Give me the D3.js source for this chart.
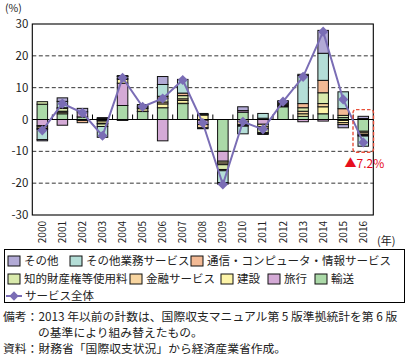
<!DOCTYPE html>
<html><head><meta charset="utf-8">
<script src="https://cdn.jsdelivr.net/npm/d3@7/dist/d3.min.js"></script>
<style>
body{margin:0;background:#fff;}
text{font-family:"Noto Sans CJK JP","Noto Sans",sans-serif;}
</style></head>
<body><svg id="c" width="409" height="361"></svg>
<script>
const years = ["2000","2001","2002","2003","2004","2005","2006","2007","2008","2009","2010","2011","2012","2013","2014","2015","2016"];
const seriesNames = ["輸送","旅行","建設","金融サービス","知的財産権等使用料","通信・コンピュータ・情報サービス","その他業務サービス","その他"];
const transport = [4.8, 1.8, 0.8, -0.3, 4.4, 2.5, 3.7, 5.0, -0.2, -10.0, 2.3, 0.4, 4.0, 1.0, 1.8, 0.6, -3.7];
const travel    = [-1.9, -1.8, 1.6, -0.2, 7.0, 0.1, -6.7, 0.1, -1.4, -3.1, 0.5, -1.5, 0.3, -0.7, -0.5, -0.3, 0.3];
const construction = [-0.4, 0.5, 0, -0.7, 1.2, 0.8, 1.2, 0.9, 1.4, -0.6, -0.6, -0.8, 0.3, 0.8, 2.2, -0.7, -0.5];
const finance   = [-0.5, 0.3, -0.3, -0.2, 0.3, 0.2, 0.6, 0.5, -1.0, -0.5, -1.0, -0.6, 0.2, 0.8, 1.0, -0.6, -0.5];
const ip        = [0.8, 0.9, 0, -0.8, 0.6, 0.3, 1.2, 1.0, -0.3, -1.5, -0.3, -1.2, 0.3, 1.1, 3.4, 0.7, -0.3];
const ict       = [-0.3, 0.2, -0.7, 0.3, 0.1, 0.3, 0.6, 0.8, 0.2, -0.4, -0.2, -0.3, 0.3, 1.3, 3.9, 2.1, -0.2];
const otherBiz  = [-3.2, 2.0, 0, -3.4, 0.2, 0.5, 3.7, 4.3, 0, -3.7, -2.4, 1.5, 0.3, 8.8, 8.5, 5.3, -3.2];
const other     = [-0.4, 1.1, 1.1, 0.3, -0.3, 0, 2.5, 0, 0.3, -0.5, 1.2, -0.3, 0.2, 0.4, 7.2, -1.0, 0.7];
const total     = [-3.4, 5.0, 2.1, -5.1, 13.1, 4.0, 6.6, 12.4, -1.1, -20.4, -0.7, -3.1, 5.6, 13.4, 27.6, 6.3, -7.2];
const yTicks = [-30, -20, -10, 0, 10, 20, 30];
const legendRows = [["その他","その他業務サービス","通信・コンピュータ・情報サービス"],["知的財産権等使用料","金融サービス","建設","旅行","輸送"]];
const lineName = "サービス全体";
const noteLines = ["備考：2013 年以前の計数は、国際収支マニュアル第 5 版準拠統計を第 6 版","の基準により組み替えたもの。","資料：財務省「国際収支状況」から経済産業省作成。"];
const annotation = "▲7.2%";

const seriesArr = [transport, travel, construction, finance, ip, ict, otherBiz, other];
const colors = {"輸送":"#abd9a8","旅行":"#d4aad6","建設":"#fdf4a8","金融サービス":"#f8d5a0","知的財産権等使用料":"#d9eaac","通信・コンピュータ・情報サービス":"#f3ba95","その他業務サービス":"#b4ded7","その他":"#b2aad6"};

const rows = years.map((y,i)=>{const o={year:y}; seriesNames.forEach((s,k)=>o[s]=seriesArr[k][i]); return o;});

const svg = d3.select("#c");
const L=32.3, R=373.3, T=24, B=215;
const x = d3.scaleBand().domain(years).range([L,R]).paddingInner(0.475).paddingOuter(0.2375);
const y = d3.scaleLinear().domain([-30,30]).range([B,T]);

// grid
svg.append("g").selectAll("line").data(yTicks.filter(v=>v!==0 && Math.abs(v)!==30)).join("line")
  .attr("x1",L).attr("x2",R).attr("y1",d=>y(d)).attr("y2",d=>y(d))
  .attr("stroke","#000").attr("stroke-width",0.8).attr("stroke-dasharray","4,2.5");

// y labels
svg.append("g").selectAll("text").data(yTicks).join("text")
  .attr("x",L-4).attr("y",d=>y(d)+4).attr("text-anchor","end")
  .attr("font-size",11.5).attr("fill","#222").text(d=>d);
svg.append("text").attr("x",5).attr("y",12).attr("font-size",10.5).attr("fill","#222").text("(%)");

// bars
const stack = d3.stack().keys(seriesNames).offset(d3.stackOffsetDiverging)(rows);
svg.append("g").selectAll("g").data(stack).join("g").attr("fill",d=>colors[d.key])
  .selectAll("rect").data(d=>d.filter(p=>p[1]-p[0]!==0)).join("rect")
  .attr("x",d=>x(d.data.year)).attr("width",x.bandwidth())
  .attr("y",d=>y(Math.max(d[0],d[1]))).attr("height",d=>Math.abs(y(d[0])-y(d[1])))
  .attr("stroke","#111").attr("stroke-width",1);

// zero line + band ticks
svg.append("line").attr("x1",L).attr("x2",R).attr("y1",y(0)).attr("y2",y(0)).attr("stroke","#000").attr("stroke-width",1);
const step = x.step();
svg.append("g").selectAll("line").data(years.slice(1)).join("line")
  .attr("x1",(d,i)=>L+step*(i+1)).attr("x2",(d,i)=>L+step*(i+1))
  .attr("y1",y(0)).attr("y2",y(0)-5).attr("stroke","#000").attr("stroke-width",1);

// frame
svg.append("rect").attr("x",L).attr("y",T).attr("width",R-L).attr("height",B-T).attr("fill","none").attr("stroke","#000").attr("stroke-width",1.1);

// line
const lc = "#7a6db5";
const line = d3.line().x((d,i)=>x(years[i])+x.bandwidth()/2).y(d=>y(d));
svg.append("path").datum(total).attr("d",line).attr("fill","none").attr("stroke",lc).attr("stroke-width",2);
svg.append("g").selectAll("path").data(total).join("path")
  .attr("transform",(d,i)=>`translate(${x(years[i])+x.bandwidth()/2},${y(d)}) rotate(45)`)
  .attr("d","M-3.6,-3.6H3.6V3.6H-3.6Z").attr("fill",lc);

// x labels
svg.append("g").selectAll("text").data(years).join("text")
  .attr("transform",d=>`translate(${x(d)+x.bandwidth()/2+3.5},${B+6}) rotate(-90)`)
  .attr("text-anchor","end").attr("font-size",10).attr("fill","#222").text(d=>d);
svg.append("text").attr("x",377).attr("y",245).attr("font-size",11).attr("fill","#222").text("(年)");

// annotation
const last = years[years.length-1];
const bx = x(last), bw = x.bandwidth();
svg.append("rect").attr("x",bx-5).attr("y",y(3.1)).attr("width",bw+10).attr("height",y(-10.3)-y(3.1))
  .attr("rx",3).attr("fill","none").attr("stroke","#e8503a").attr("stroke-width",1.4).attr("stroke-dasharray","3.5,2");
svg.append("text").attr("x",bx+bw/2+21).attr("y",y(-15.2)).attr("text-anchor","end")
  .attr("font-size",12).attr("fill","#e60f1e").text(annotation);

// legend
svg.append("rect").attr("x",4.5).attr("y",249.5).attr("width",400).attr("height",53).attr("fill","none").attr("stroke","#000").attr("stroke-width",1);
const rowX = [[8,70,191],[8,130,221,268,315]];
const rowY = [261,279];
legendRows.forEach((r,ri)=>{
  r.forEach((name,k)=>{
    const gx = rowX[ri][k], gy = rowY[ri];
    svg.append("rect").attr("x",gx).attr("y",gy-5).attr("width",12).attr("height",10).attr("fill",colors[name]).attr("stroke","#111").attr("stroke-width",1);
    svg.append("text").attr("x",gx+16).attr("y",gy+4.3).attr("font-size",11.5).attr("fill","#222").text(name);
  });
});
svg.append("line").attr("x1",6).attr("x2",22).attr("y1",296).attr("y2",296).attr("stroke",lc).attr("stroke-width",2);
svg.append("path").attr("transform","translate(14,296) rotate(45)").attr("d","M-3.3,-3.3H3.3V3.3H-3.3Z").attr("fill",lc);
svg.append("text").attr("x",25).attr("y",300.3).attr("font-size",11.5).attr("fill","#222").text(lineName);

// notes
svg.append("text").attr("x",3).attr("y",321).attr("font-size",11.8).attr("fill","#222").text(noteLines[0]);
svg.append("text").attr("x",38).attr("y",337).attr("font-size",11.8).attr("fill","#222").text(noteLines[1]);
svg.append("text").attr("x",3).attr("y",353).attr("font-size",11.8).attr("fill","#222").text(noteLines[2]);
</script></body></html>
